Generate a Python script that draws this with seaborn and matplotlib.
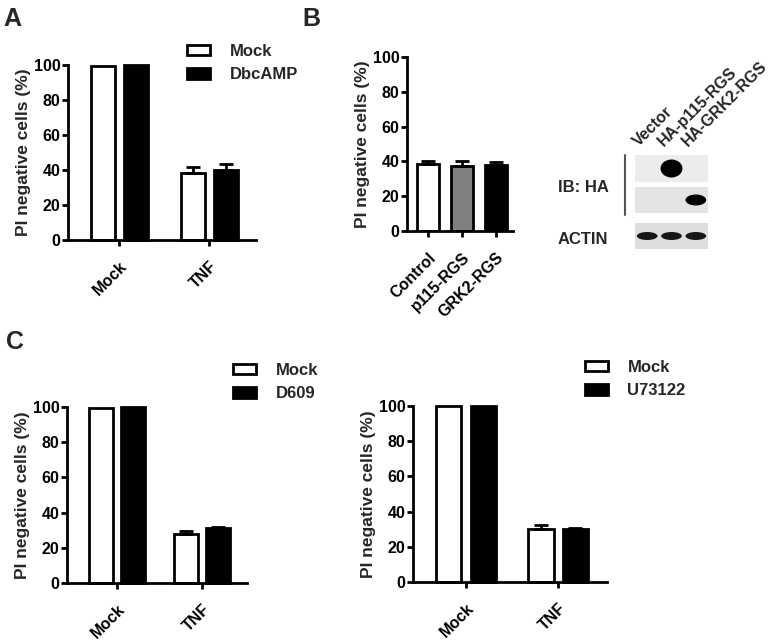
import seaborn as sns
import pandas as pd
import matplotlib.pyplot as plt
from matplotlib.patches import Patch, Ellipse, Rectangle

# Data
groups = ["Mock", "TNF"]

a_mock = [99.5, 38.5]
a_mock_err = [0.0, 3.5]
a_dbc = [100.0, 40.0]
a_dbc_err = [0.0, 3.5]

b_labels = ["Control", "p115-RGS", "GRK2-RGS"]
b_vals = [38.5, 37.5, 38.0]
b_err = [1.5, 2.5, 1.5]

c1_mock = [99.5, 28.0]
c1_mock_err = [0.0, 1.5]
c1_d609 = [99.8, 31.0]
c1_d609_err = [0.0, 1.0]

c2_mock = [99.8, 30.0]
c2_mock_err = [0.0, 2.5]
c2_u73 = [99.8, 30.0]
c2_u73_err = [0.0, 0.6]

blot_lanes = ["Vector", "HA-p115-RGS", "HA-GRK2-RGS"]
ha_p115_band = [0.0, 1.0, 0.0]
ha_grk2_band = [0.0, 0.0, 1.0]
actin_band = [0.9, 0.9, 0.9]

sns.set_style("ticks")
plt.rcParams["font.family"] = ["Liberation Sans", "DejaVu Sans"]
plt.rcParams["font.weight"] = "bold"
plt.rcParams["axes.labelweight"] = "bold"
plt.rcParams["font.size"] = 11

W, H = 773, 640
fig = plt.figure(figsize=(W / 100, H / 100), dpi=100)


def px_axes(x0, x1, ytop, ybot):
    return fig.add_axes([x0 / W, 1 - ybot / H, (x1 - x0) / W, (ybot - ytop) / H])


def style_axes(ax, labels):
    for s in ["top", "right"]:
        ax.spines[s].set_visible(False)
    for s in ["left", "bottom"]:
        ax.spines[s].set_linewidth(2)
        ax.spines[s].set_color("black")
    ax.set_ylim(0, 100)
    ax.set_yticks([0, 20, 40, 60, 80, 100])
    ax.tick_params(axis="both", width=2, length=4.5, labelsize=11.5, colors="black")
    ax.tick_params(axis="y", pad=1)
    ax.tick_params(axis="x", pad=9)
    ax.set_xticks(range(len(labels)))
    ax.set_xticklabels(labels, rotation=45, ha="right", rotation_mode="anchor",
                       fontweight="bold")
    for t in ax.get_yticklabels():
        t.set_fontweight("bold")
    ax.set_xlabel("")
    ax.set_ylabel("PI negative cells (%)", fontsize=12.5, fontweight="bold",
                  labelpad=2)


def add_errors(ax, errs):
    for cont, err in zip(ax.containers, errs):
        for bar, e in zip(cont, err):
            if e <= 0:
                continue
            x = bar.get_x() + bar.get_width() / 2
            h = bar.get_height()
            ax.errorbar([x], [h], yerr=[[0], [e]], fmt="none", ecolor="black",
                        elinewidth=2, capsize=5, capthick=2, zorder=5)


def grouped_panel(ax, mock, mock_err, trt, trt_err, trt_name, width, gap, xlim,
                  leg_xy):
    df = pd.DataFrame({
        "group": groups * 2,
        "treatment": ["Mock"] * 2 + [trt_name] * 2,
        "value": mock + trt,
    })
    sns.barplot(data=df, x="group", y="value", hue="treatment",
                palette={"Mock": "white", trt_name: "black"},
                edgecolor="black", linewidth=2, width=width, gap=gap,
                errorbar=None, legend=False, ax=ax)
    for p in ax.patches:
        p.set_clip_on(False)
    add_errors(ax, [mock_err, trt_err])
    ax.set_xlim(*xlim)
    style_axes(ax, groups)
    handles = [Patch(facecolor="white", edgecolor="black", linewidth=2, label="Mock"),
               Patch(facecolor="black", edgecolor="black", linewidth=2, label=trt_name)]
    fig.legend(handles=handles, loc="upper left",
               bbox_to_anchor=(leg_xy[0] / W, 1 - leg_xy[1] / H),
               frameon=False, handlelength=1.35, handleheight=0.6,
               handletextpad=1.2, labelspacing=0.5, borderpad=0, borderaxespad=0,
               prop={"weight": "bold", "size": 12})


# Panel A
ax_a = px_axes(68, 256, 65, 240)
grouped_panel(ax_a, a_mock, a_mock_err, a_dbc, a_dbc_err, "DbcAMP",
              0.733, 0.27, (-0.567, 1.52), (187, 44))

# Panel B bars
ax_b = px_axes(407, 513, 57, 231)
dfb = pd.DataFrame({"label": b_labels, "value": b_vals})
sns.barplot(data=dfb, x="label", y="value", hue="label",
            palette={"Control": "white", "p115-RGS": "#808080", "GRK2-RGS": "black"},
            edgecolor="black", linewidth=2, width=0.66, errorbar=None,
            legend=False, ax=ax_b)
for cont, e in zip(ax_b.containers, b_err):
    for bar in cont:
        x = bar.get_x() + bar.get_width() / 2
        ax_b.errorbar([x], [bar.get_height()], yerr=[[0], [e]], fmt="none",
                      ecolor="black", elinewidth=2, capsize=5, capthick=2, zorder=5)
ax_b.set_xlim(-0.62, 2.5)
style_axes(ax_b, b_labels)

# Panel B blot
ax_w = px_axes(635, 708, 150, 250)
ax_w.set_xlim(-0.5, 2.5)
ax_w.set_ylim(250, 150)
ax_w.axis("off")
rows = [(155, 182, ha_p115_band, 18, 0.9, "#ececec"),
        (187, 213, ha_grk2_band, 11, 0.85, "#e4e4e4"),
        (223, 249, actin_band, 8, 0.85, "#dedede")]
for top, bot, band, bh, bw, bg in rows:
    ax_w.add_patch(Rectangle((-0.5, top), 3, bot - top, facecolor=bg,
                             edgecolor="none", clip_on=False))
    for i, v in enumerate(band):
        if v > 0:
            ax_w.add_patch(Ellipse((i, (top + bot) / 2), bw, bh, facecolor="black",
                                   alpha=v, edgecolor="none", clip_on=False))
ax_w.plot([-0.9, -0.9], [155, 215], color="#555555", lw=1.5, clip_on=False)
for i, name in enumerate(blot_lanes):
    ax_w.text(i - 0.25, 149, name, rotation=45, rotation_mode="anchor",
              ha="left", va="bottom", fontsize=11.5, fontweight="bold")
fig.text(558 / W, 1 - 188 / H, "IB: HA", ha="left", va="center",
         fontsize=12, fontweight="bold")
fig.text(558 / W, 1 - 240 / H, "ACTIN", ha="left", va="center",
         fontsize=12, fontweight="bold")

# Panel C
ax_c1 = px_axes(67, 247, 407, 583)
grouped_panel(ax_c1, c1_mock, c1_mock_err, c1_d609, c1_d609_err, "D609",
              0.75, 0.25, (-0.59, 1.53), (233, 363))

ax_c2 = px_axes(413, 607, 406, 582)
grouped_panel(ax_c2, c2_mock, c2_mock_err, c2_u73, c2_u73_err, "U73122",
              0.75, 0.27, (-0.576, 1.53), (585, 360))

# Panel letters
for x, y, s in [(3, 7, "A"), (302, 7, "B"), (6, 330, "C")]:
    fig.text(x / W, 1 - y / H, s, ha="left", va="top", fontsize=18,
             fontweight="bold")

fig.savefig("out.png", dpi=100)
